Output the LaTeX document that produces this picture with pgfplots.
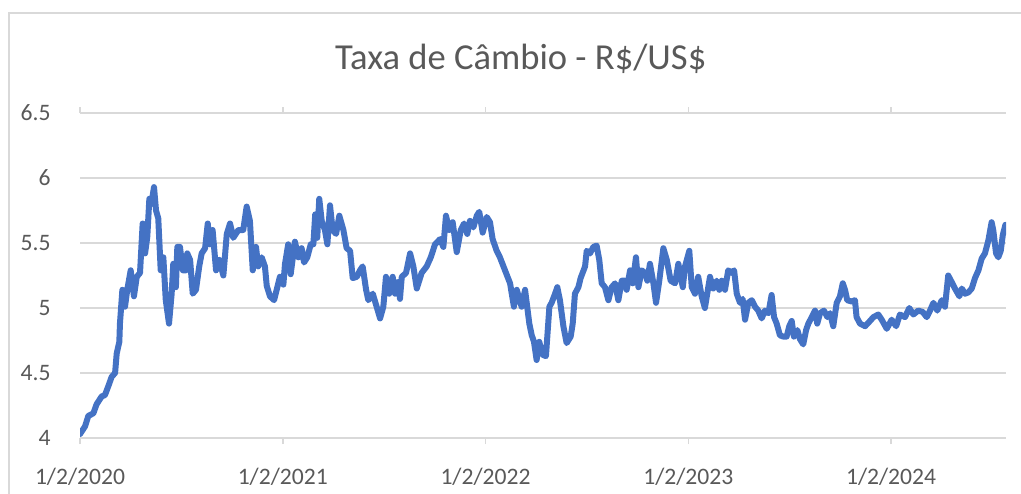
\documentclass[border=0pt]{standalone}
\usepackage{fontspec}
\setmainfont{Carlito}
\usepackage{pgfplots}
\pgfplotsset{compat=1.18}
\definecolor{txtgray}{HTML}{595959}
\definecolor{gridgray}{HTML}{D9D9D9}
\definecolor{lineblue}{HTML}{4472C4}
\begin{document}
\begin{tikzpicture}
\useasboundingbox (0,0) rectangle (510.5pt,246.5pt);
\draw[gridgray, line width=0.75pt] (4.5pt,-2pt) -- (4.5pt,240pt) -- (512pt,240pt);
\node[anchor=base, text=txtgray, font=\fontsize{18.3}{22}\selectfont, inner sep=0pt] at (260.4pt,211.85pt) {Taxa de Câmbio - R\$/US\$};
\begin{axis}[
  at={(40pt,27.5pt)}, anchor=south west,
  scale only axis, width=463pt, height=162.5pt,
  xmin=0, xmax=4.567, ymin=4, ymax=6.5,
  axis line style={draw=none},
  ymajorgrids, grid style={gridgray, line width=0.75pt},
  ytick={4,4.5,5,5.5,6,6.5},
  xtick={0,1,2,3,4},
  xticklabels={1/2/2020,1/2/2021,1/2/2022,1/2/2023,1/2/2024},
  tick align=outside, major tick length=3pt,
  xtick style={gridgray, line width=0.75pt},
  ytick style={draw=none},
  /pgf/number format/assume math mode=true,
  tick label style={text=txtgray, font=\fontsize{11.8}{14}\selectfont},
  yticklabel style={anchor=east, inner sep=0pt, xshift=-11.5pt},
  xticklabel style={anchor=base, inner sep=0pt, yshift=-20.15pt},
  xticklabel shift=0pt,
]
\addplot[lineblue, line width=3pt, line join=round, line cap=round] coordinates {
(0.000,4.03)(0.025,4.09)(0.041,4.17)(0.066,4.19)(0.082,4.26)(0.107,4.32)(0.123,4.33)(0.140,4.40)
(0.156,4.47)(0.173,4.50)(0.181,4.65)(0.194,4.74)(0.197,4.88)(0.209,5.14)(0.222,5.01)(0.233,5.14)
(0.250,5.29)(0.266,5.09)(0.280,5.24)(0.296,5.27)(0.309,5.65)(0.321,5.42)(0.332,5.55)(0.342,5.84)
(0.352,5.80)(0.365,5.93)(0.375,5.75)(0.386,5.69)(0.398,5.29)(0.411,5.39)(0.423,5.06)(0.439,4.88)
(0.452,5.11)(0.460,5.34)(0.473,5.16)(0.480,5.47)(0.493,5.47)(0.507,5.29)(0.523,5.29)(0.529,5.42)
(0.543,5.37)(0.556,5.11)(0.572,5.14)(0.588,5.32)(0.600,5.42)(0.617,5.46)(0.630,5.65)(0.641,5.49)
(0.654,5.60)(0.671,5.29)(0.687,5.37)(0.707,5.25)(0.724,5.57)(0.740,5.65)(0.756,5.54)(0.781,5.60)
(0.805,5.60)(0.822,5.78)(0.838,5.67)(0.852,5.29)(0.868,5.47)(0.879,5.32)(0.896,5.39)(0.912,5.32)
(0.921,5.17)(0.937,5.09)(0.957,5.06)(0.970,5.14)(0.986,5.24)(1.003,5.18)(1.011,5.34)(1.027,5.49)
(1.039,5.26)(1.060,5.51)(1.077,5.39)(1.093,5.46)(1.105,5.35)(1.121,5.39)(1.138,5.49)(1.151,5.49)
(1.160,5.72)(1.170,5.54)(1.180,5.84)(1.192,5.67)(1.208,5.60)(1.220,5.49)(1.233,5.79)(1.246,5.60)
(1.263,5.57)(1.279,5.71)(1.299,5.60)(1.315,5.46)(1.332,5.44)(1.345,5.23)(1.365,5.24)(1.381,5.29)
(1.394,5.32)(1.411,5.14)(1.422,5.06)(1.444,5.11)(1.463,5.01)(1.480,4.92)(1.496,5.01)(1.509,5.24)
(1.525,5.11)(1.542,5.24)(1.554,5.11)(1.570,5.20)(1.578,5.07)(1.587,5.24)(1.608,5.27)(1.628,5.42)
(1.644,5.32)(1.661,5.15)(1.685,5.27)(1.710,5.32)(1.730,5.39)(1.751,5.49)(1.776,5.53)(1.792,5.47)
(1.805,5.71)(1.821,5.60)(1.838,5.66)(1.858,5.43)(1.878,5.60)(1.894,5.65)(1.910,5.57)(1.923,5.67)
(1.940,5.62)(1.957,5.71)(1.969,5.74)(1.986,5.58)(2.006,5.70)(2.022,5.66)(2.035,5.53)(2.055,5.44)
(2.071,5.39)(2.096,5.29)(2.121,5.19)(2.140,5.01)(2.154,5.14)(2.178,5.01)(2.195,5.14)(2.216,4.88)
(2.228,4.79)(2.239,4.74)(2.252,4.60)(2.265,4.74)(2.282,4.64)(2.298,4.63)(2.315,5.01)(2.326,5.04)
(2.343,5.11)(2.354,5.16)(2.367,5.06)(2.384,4.86)(2.400,4.73)(2.420,4.78)(2.430,4.88)(2.441,5.11)
(2.458,5.16)(2.469,5.23)(2.491,5.32)(2.499,5.44)(2.515,5.42)(2.532,5.47)(2.548,5.48)(2.561,5.37)
(2.573,5.19)(2.589,5.16)(2.606,5.06)(2.622,5.16)(2.639,5.19)(2.655,5.06)(2.672,5.21)(2.688,5.21)
(2.696,5.14)(2.713,5.29)(2.726,5.19)(2.742,5.39)(2.754,5.16)(2.770,5.29)(2.787,5.27)(2.798,5.21)
(2.811,5.34)(2.828,5.19)(2.841,5.04)(2.857,5.21)(2.877,5.46)(2.894,5.37)(2.913,5.21)(2.935,5.19)
(2.951,5.34)(2.973,5.16)(2.984,5.32)(3.005,5.44)(3.017,5.16)(3.033,5.11)(3.049,5.24)(3.066,5.09)
(3.082,5.00)(3.107,5.24)(3.123,5.15)(3.140,5.21)(3.153,5.14)(3.165,5.21)(3.181,5.14)(3.197,5.29)
(3.214,5.27)(3.226,5.29)(3.239,5.11)(3.255,5.04)(3.268,5.07)(3.280,4.91)(3.296,5.04)(3.313,5.06)
(3.329,5.01)(3.345,4.98)(3.362,4.92)(3.378,4.98)(3.395,4.96)(3.411,5.10)(3.423,4.93)(3.436,4.88)
(3.452,4.79)(3.469,4.78)(3.485,4.78)(3.498,4.86)(3.510,4.90)(3.521,4.78)(3.538,4.83)(3.551,4.76)
(3.567,4.72)(3.581,4.83)(3.592,4.88)(3.609,4.93)(3.625,4.98)(3.636,4.88)(3.650,4.96)(3.669,4.98)
(3.686,4.93)(3.699,4.96)(3.715,4.86)(3.732,5.04)(3.748,5.09)(3.762,5.19)(3.773,5.14)(3.784,5.06)
(3.806,5.05)(3.822,5.06)(3.830,4.93)(3.847,4.88)(3.872,4.86)(3.896,4.90)(3.913,4.93)(3.937,4.95)
(3.954,4.91)(3.979,4.84)(4.003,4.91)(4.025,4.86)(4.044,4.95)(4.069,4.93)(4.090,5.00)(4.110,4.95)
(4.134,4.98)(4.156,4.97)(4.176,4.93)(4.192,4.98)(4.209,5.04)(4.228,4.98)(4.250,5.06)(4.266,5.01)
(4.282,5.25)(4.299,5.20)(4.315,5.15)(4.337,5.09)(4.349,5.15)(4.365,5.11)(4.381,5.12)(4.398,5.15)
(4.414,5.23)(4.431,5.29)(4.447,5.38)(4.463,5.42)(4.480,5.52)(4.496,5.66)(4.504,5.60)(4.518,5.42)
(4.529,5.39)(4.541,5.44)(4.551,5.56)(4.564,5.64)
};
\end{axis}
\end{tikzpicture}
\end{document}
